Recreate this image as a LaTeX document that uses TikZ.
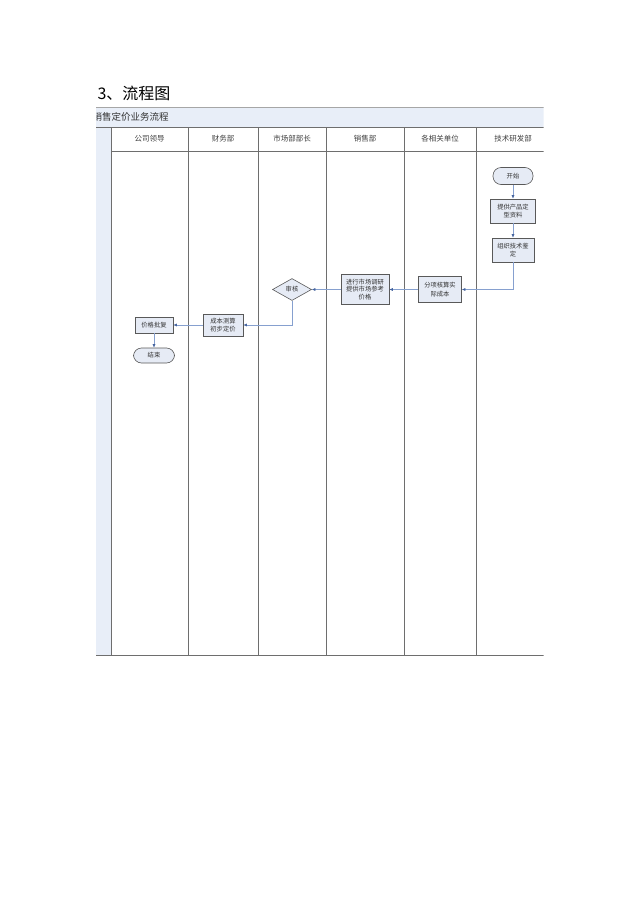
\documentclass[tikz,border=0pt]{standalone}
\usepackage{fontspec}
\newfontfamily\cjk{Noto Sans CJK SC}
\usetikzlibrary{shapes.geometric,arrows.meta}
\definecolor{boxfill}{HTML}{E6EBF5}
\definecolor{bandfill}{HTML}{E8EEF8}
\definecolor{laneline}{HTML}{6E6E6E}
\definecolor{flowline}{HTML}{86A0CF}
\definecolor{flowtip}{HTML}{44639E}
\tikzset{
  lane/.style={draw=laneline,line width=1pt},
  lanehead/.style={font=\cjk\fontsize{7.5}{9}\selectfont,text=black!75},
  proc/.style={draw=black!65,fill=boxfill,line width=0.6pt,align=center,
    inner sep=1pt,font=\cjk\fontsize{6.3}{8.5}\selectfont,text=black!80},
  term/.style={proc,rounded corners=8pt},
  check/.style={proc,diamond,aspect=1.9,inner sep=0pt},
  flow/.style={draw=flowline,line width=0.6pt,
    -{Latex[length=3.5pt,width=3pt,color=flowtip]}}
}
\begin{document}
\begin{tikzpicture}[x=1pt,y=-1pt]
   \useasboundingbox (0,0) rectangle (640,905);
   \node[anchor=west,font=\cjk\fontsize{16}{18}\selectfont] (title) at (94,93) {3、流程图};
   % pool frame
   \begin{scope}
   \clip (96,100) rectangle (543.5,660);
   \fill[bandfill] (90,107) rectangle (543.5,127);
   \fill[bandfill] (96,127) rectangle (111,655);
   \node[anchor=west,font=\cjk\fontsize{9.5}{11}\selectfont,text=black!80] (pooltitle) at (89,117) {销售定价业务流程};
   \draw[draw=gray!70,line width=0.8pt] (96,107) -- (543.5,107);
   \draw[lane] (96,127) -- (543.5,127);
   \draw[lane] (111,151) -- (543.5,151);
   \draw[lane] (96,655) -- (543.5,655);
   \foreach \x in {111,188,258,326,404,476}
     \draw[lane] (\x,127) -- (\x,655);
   \foreach \x/\name [count=\i] in {149.5/公司领导,223/财务部,292/市场部部长,
       365/销售部,440/各相关单位,513/技术研发部}
     \node[lanehead] (head\i) at (\x,139) {\name};
   \end{scope}
   % flow
   \node[term,minimum width=40pt,minimum height=17pt] (start) at (513,176) {开始};
   \node[proc,minimum width=45pt,minimum height=24pt] (supply) at (513,211) {提供产品定\\型资料};
   \node[proc,minimum width=42pt,minimum height=24pt] (ident) at (513,250) {组织技术鉴\\定};
   \node[proc,minimum width=43pt,minimum height=26pt] (calc) at (440,289.5) {分项核算实\\际成本};
   \node[proc,minimum width=48pt,minimum height=30pt,font=\cjk\fontsize{6.3}{7.8}\selectfont] (survey) at (365,289.5) {进行市场调研\\提供市场参考\\价格};
   \node[check,minimum width=39pt,minimum height=22pt] (audit) at (292,289.5) {审核};
   \node[proc,minimum width=40pt,minimum height=22pt] (estimate) at (223,325) {成本测算\\初步定价};
   \node[proc,minimum width=38pt,minimum height=16pt] (approve) at (154,325) {价格批复};
   \node[term,minimum width=41pt,minimum height=15pt] (stop) at (154,355.5) {结束};
   \draw[flow] (start) -- (supply);
   \draw[flow] (supply) -- (ident);
   \draw[flow] (ident.south) |- (calc.east);
   \draw[flow] (calc) -- (survey);
   \draw[flow] (survey) -- (audit);
   \draw[flow] (audit.south) |- (estimate.east);
   \draw[flow] (estimate) -- (approve);
   \draw[flow] (approve) -- (stop);
 \end{tikzpicture}
\end{document}
